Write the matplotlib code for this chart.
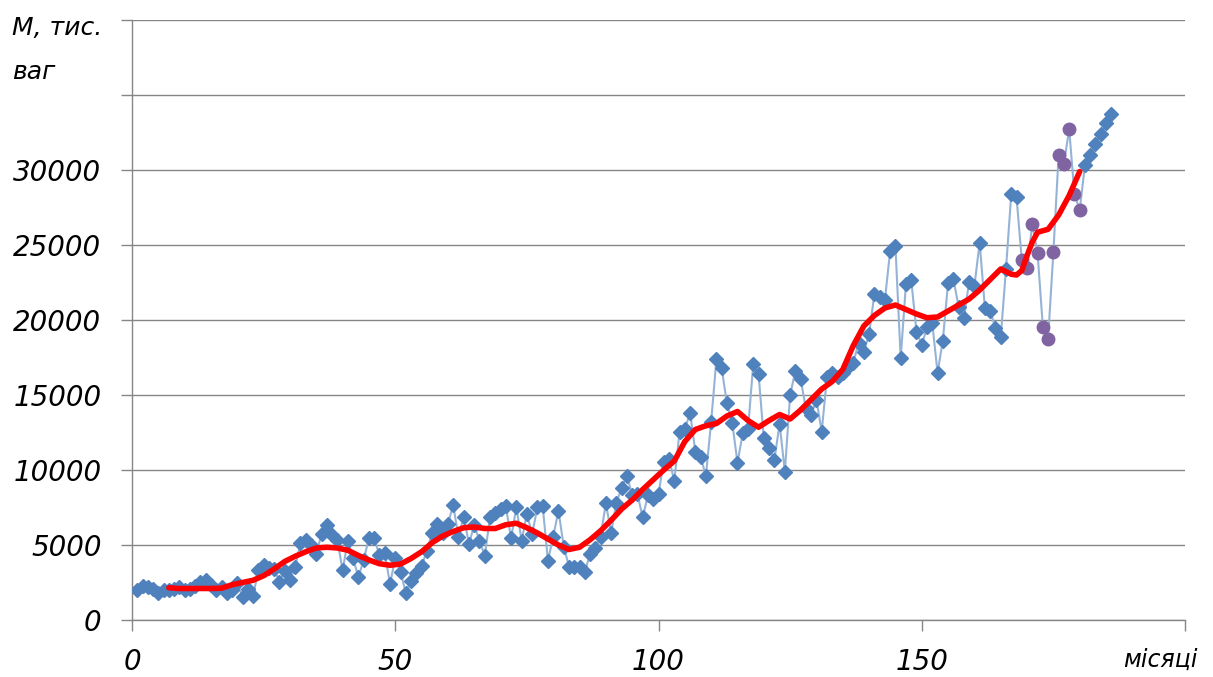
import numpy as np
import matplotlib.pyplot as plt

# monthly volume, thousand wagons (months 1..186)
months = np.arange(1, 187)
volume = [
    2000, 2300, 2200, 2100, 1800, 2000, 2000, 2100, 2200, 2000,
    2100, 2250, 2550, 2700, 2350, 2000, 2200, 1800, 2000, 2500,
    1550, 2050, 1600, 3350, 3650, 3500, 3400, 2550, 3300, 2650,
    3560, 5110, 5330, 5000, 4400, 5730, 6330, 5670, 5330, 3330,
    5270, 4110, 2850, 4000, 5440, 5440, 4330, 4490, 2400, 4110,
    3220, 1820, 2620, 3160, 3600, 4600, 5820, 6400, 5820, 6400,
    7670, 5560, 6890, 5070, 6330, 5290, 4290, 6840, 7110, 7380,
    7600, 5440, 7510, 5290, 7070, 5730, 7510, 7600, 3950, 5560,
    7290, 4900, 3560, 3510, 3510, 3220, 4400, 4780, 5560, 7780,
    5820, 7820, 8800, 9620, 8330, 8400, 6840, 8330, 8040, 8400,
    10560, 10710, 9290, 12560, 12710, 13820, 11220, 10890, 9600, 13220,
    17380, 16780, 14440, 13160, 10490, 12440, 12710, 17070, 16400, 12110,
    11440, 10670, 13070, 9890, 15000, 16620, 16040, 14110, 13670, 14670,
    12560, 16220, 16490, 16220, 16490, 16890, 17160, 18440, 17890, 19070,
    21730, 21510, 21330, 24620, 24930, 17440, 22400, 22670, 19220, 18330,
    19510, 19780, 16490, 18620, 22480, 22750, 20890, 20110, 22560, 22270,
    25160, 20780, 20620, 19440, 18840, 23400, 28400, 28180, 24000, 23440,
    26400, 24440, 19560, 18760, 24530, 31000, 30400, 32730, 28400, 27330,
    30330, 31000, 31730, 32380, 33110, 33730,
]
volume = np.array(volume)

# months shown with circle markers
check_months = np.arange(169, 181)

# smoothed trend
trend_months = [7, 9, 11, 13, 15, 17, 19, 21, 23, 25, 27, 29, 31, 33, 35, 37, 39,
                41, 43, 45, 47, 49, 51, 53, 55, 57, 59, 61, 63, 65, 67, 69, 71,
                73, 75, 77, 79, 81, 83, 85, 87, 89, 91, 93, 95, 97, 99, 101, 103,
                105, 107, 109, 111, 113, 115, 117, 119, 121, 123, 125, 127, 129,
                131, 133, 135, 137, 139, 141, 143, 145, 147, 149, 151, 153, 155,
                157, 159, 161, 163, 165, 167, 168, 169, 170, 171, 172, 174, 176,
                178, 180]
trend = [2150, 2100, 2100, 2100, 2100, 2120, 2350, 2500, 2650, 2950, 3400, 3900,
         4250, 4550, 4800, 4850, 4800, 4650, 4300, 4000, 3750, 3650, 3730, 4100,
         4550, 5150, 5600, 5900, 6150, 6200, 6100, 6100, 6350, 6450, 6150, 5800,
         5400, 5000, 4700, 4850, 5350, 5950, 6650, 7400, 8000, 8700, 9350, 10000,
         10600, 11900, 12700, 12950, 13100, 13600, 13900, 13300, 12850, 13300,
         13700, 13400, 14000, 14700, 15400, 15900, 16700, 18300, 19600, 20300,
         20800, 21000, 20700, 20400, 20150, 20200, 20600, 21000, 21400, 22000,
         22700, 23400, 23050, 23000, 23300, 24300, 25200, 25850, 26050, 27000,
         28300, 29900]

xticks = [0, 50, 100, 150, 200]
xtick_labels = ["0", "50", "100", "150", ""]
yticks = list(range(0, 40001, 5000))
ytick_labels = [str(v) for v in range(0, 30001, 5000)] + ["", ""]

grey = "#868686"

fig = plt.figure(figsize=(12.13, 6.77), dpi=100)
ax = fig.add_axes([132 / 1213, 57 / 677, 1053 / 1213, 600 / 677])

sel = np.isin(months, check_months)

# thin connecting line through every month
ax.plot(months, volume, color="#95B3D7", lw=1.5, zorder=2)
# diamonds for ordinary months, circles for the checked ones
ax.plot(months[~sel], volume[~sel], "D", color="#4F81BD", ms=7, mec="#4F81BD",
        zorder=3)
ax.plot(months[sel], volume[sel], "o", color="#8064A2", ms=9, mec="#8064A2",
        zorder=4)

ax.plot(trend_months, trend, color="#FF0000", lw=4, solid_capstyle="round",
        solid_joinstyle="round", zorder=5)

ax.set_xlim(0, 200)
ax.set_ylim(0, 40000)
ax.set_xticks(xticks)
ax.set_xticklabels(xtick_labels, fontsize=20, style="italic")
ax.set_yticks(yticks)
ax.set_yticklabels(ytick_labels, fontsize=20, style="italic")

ax.yaxis.grid(True, color=grey, lw=1.0)
ax.set_axisbelow(True)
for side in ("top", "right"):
    ax.spines[side].set_visible(False)
for side in ("left", "bottom"):
    ax.spines[side].set_color(grey)
    ax.spines[side].set_linewidth(1.0)
ax.tick_params(axis="y", length=8, width=1.0, color=grey, pad=14)
ax.tick_params(axis="x", length=8, width=1.0, color=grey, pad=12)

fig.text(12 / 1213, 1 - 28 / 677, "M, тис.", fontsize=18, style="italic",
         ha="left", va="center")
fig.text(12 / 1213, 1 - 72 / 677, "ваг", fontsize=18, style="italic",
         ha="left", va="center")
fig.text(1160 / 1213, 1 - 660 / 677, "місяці", fontsize=17, style="italic",
         ha="center", va="center")

fig.savefig("out.png", dpi=100)
